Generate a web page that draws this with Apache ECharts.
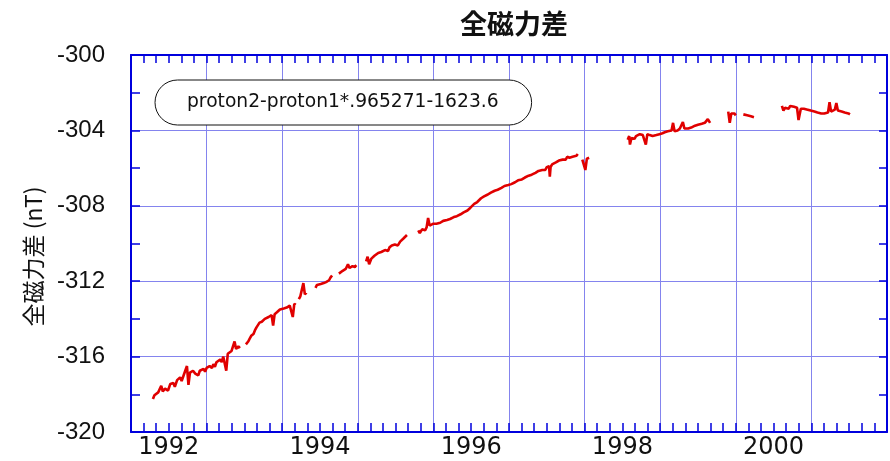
<!DOCTYPE html>
<html>
<head>
<meta charset="utf-8">
<script src="https://cdn.jsdelivr.net/npm/echarts@6/dist/echarts.min.js"></script>
<style>
    html, body { margin: 0; padding: 0; background: #fff; }
    #chart { width: 890px; height: 461px; }
</style>
</head>
<body>
<div id="chart"></div>
<script>
// 全磁力差 (nT), [year, value], one array per continuous stretch
var seg1 = [[1992.29,-318.25],[1992.31,-318.05],[1992.33,-318.15],[1992.36,-317.9],[1992.38,-318.0],[1992.40,-317.55],[1992.42,-317.85],[1992.45,-317.7],[1992.47,-317.6],[1992.49,-317.8],[1992.52,-317.45],[1992.54,-317.55],[1992.56,-317.4],[1992.58,-317.6],[1992.61,-317.25],[1992.63,-317.35],[1992.65,-317.1],[1992.67,-317.3],[1992.70,-316.95],[1992.72,-317.05],[1992.74,-316.5],[1992.76,-317.5],[1992.78,-316.85],[1992.80,-316.95],[1992.82,-316.75],[1992.85,-316.9],[1992.87,-316.8],[1992.89,-317.0],[1992.91,-316.75],[1992.93,-316.85],[1992.96,-316.65],[1992.98,-316.8],[1993.00,-316.6],[1993.02,-316.7],[1993.04,-316.5],[1993.07,-316.6],[1993.09,-316.4],[1993.11,-316.55],[1993.13,-316.3],[1993.15,-316.4],[1993.18,-316.15],[1993.20,-316.3],[1993.22,-316.0],[1993.24,-316.1],[1993.26,-316.75],[1993.28,-315.85],[1993.30,-315.95],[1993.33,-315.7],[1993.35,-315.8],[1993.37,-315.2],[1993.39,-315.6],[1993.42,-315.45],[1993.44,-315.55]];
var seg2 = [[1993.52,-315.35],[1993.55,-315.2],[1993.57,-315.05],[1993.59,-314.9],[1993.62,-314.8],[1993.64,-314.6],[1993.66,-314.45],[1993.68,-314.35],[1993.70,-314.2],[1993.73,-314.15],[1993.75,-314.05],[1993.77,-314.0],[1993.79,-313.95],[1993.82,-313.9],[1993.84,-313.95],[1993.86,-313.8],[1993.88,-314.35],[1993.90,-313.75],[1993.93,-313.65],[1993.95,-313.6],[1993.97,-313.5],[1993.99,-313.55],[1994.02,-313.45],[1994.04,-313.5],[1994.06,-313.4],[1994.08,-313.45],[1994.10,-313.3],[1994.12,-313.35],[1994.14,-313.9],[1994.16,-313.2],[1994.18,-313.25]];
var seg3 = [[1994.22,-312.95],[1994.24,-312.8],[1994.26,-312.9],[1994.28,-312.1],[1994.30,-312.7],[1994.32,-312.6]];
var seg4 = [[1994.44,-312.35],[1994.46,-312.2],[1994.48,-312.3],[1994.51,-312.15],[1994.53,-312.25],[1994.55,-312.1],[1994.58,-312.05],[1994.60,-312.0],[1994.62,-311.95],[1994.64,-311.8],[1994.66,-311.7]];
var seg5 = [[1994.75,-311.6],[1994.77,-311.55],[1994.80,-311.45],[1994.82,-311.4],[1994.84,-311.35],[1994.87,-311.1],[1994.89,-311.3],[1994.91,-311.25],[1994.93,-311.2],[1994.96,-311.25],[1994.98,-311.15]];
var seg6 = [[1995.11,-310.95],[1995.13,-310.7],[1995.15,-311.1],[1995.18,-310.8],[1995.20,-310.75],[1995.22,-310.65],[1995.24,-310.6],[1995.27,-310.5],[1995.29,-310.55],[1995.31,-310.45],[1995.33,-310.4],[1995.36,-310.35],[1995.38,-310.3],[1995.40,-310.4],[1995.42,-310.2],[1995.45,-310.1],[1995.47,-310.15],[1995.49,-310.05],[1995.51,-310.0],[1995.53,-310.1],[1995.56,-309.9],[1995.58,-309.85],[1995.60,-309.75],[1995.62,-309.65],[1995.65,-309.55]];
var seg7 = [[1995.80,-309.3],[1995.82,-309.45],[1995.85,-309.25],[1995.87,-309.2],[1995.89,-309.3],[1995.91,-309.15],[1995.93,-308.65],[1995.95,-309.05],[1995.97,-309.1],[1996.00,-308.95],[1996.02,-309.0],[1996.04,-308.95],[1996.06,-309.0],[1996.09,-308.9],[1996.11,-308.95],[1996.13,-308.8],[1996.15,-308.85],[1996.18,-308.75],[1996.20,-308.8],[1996.22,-308.7],[1996.24,-308.75],[1996.27,-308.6],[1996.29,-308.65],[1996.31,-308.55],[1996.33,-308.5],[1996.36,-308.45],[1996.38,-308.4],[1996.40,-308.35],[1996.42,-308.4],[1996.45,-308.25],[1996.47,-308.2],[1996.49,-308.1],[1996.51,-308.05],[1996.54,-307.9],[1996.56,-307.95],[1996.58,-307.8],[1996.60,-307.7],[1996.63,-307.6],[1996.65,-307.55],[1996.67,-307.5],[1996.69,-307.45],[1996.72,-307.4],[1996.74,-307.35],[1996.76,-307.3],[1996.78,-307.3],[1996.81,-307.2],[1996.83,-307.25],[1996.85,-307.15],[1996.87,-307.1],[1996.90,-307.05],[1996.92,-307.1],[1996.94,-306.95],[1996.96,-307.0],[1996.99,-306.9],[1997.01,-306.95],[1997.03,-306.85],[1997.05,-306.8],[1997.08,-306.75],[1997.10,-306.8],[1997.12,-306.65],[1997.14,-306.7],[1997.17,-306.6],[1997.19,-306.55],[1997.21,-306.5],[1997.23,-306.45],[1997.26,-306.4],[1997.28,-306.45],[1997.30,-306.35],[1997.32,-306.3],[1997.35,-306.25],[1997.37,-306.3],[1997.39,-306.15],[1997.41,-306.2],[1997.44,-306.1],[1997.46,-306.05],[1997.48,-306.1],[1997.50,-305.95],[1997.53,-305.9],[1997.54,-306.45],[1997.55,-305.95],[1997.57,-305.8],[1997.59,-305.85],[1997.62,-305.7],[1997.64,-305.75],[1997.66,-305.6],[1997.68,-305.65],[1997.71,-305.55],[1997.73,-305.5],[1997.75,-305.55],[1997.77,-305.4],[1997.80,-305.45],[1997.82,-305.35],[1997.84,-305.4],[1997.86,-305.3],[1997.89,-305.35],[1997.91,-305.25]];
var seg8 = [[1997.97,-305.55],[1997.99,-305.45],[1998.01,-306.1],[1998.03,-305.5],[1998.05,-305.6],[1998.06,-305.45]];
var seg9 = [[1998.57,-304.5],[1998.59,-304.3],[1998.60,-304.75],[1998.62,-304.4],[1998.64,-304.3],[1998.66,-304.45],[1998.68,-304.3],[1998.70,-304.35],[1998.73,-304.2],[1998.75,-304.3],[1998.77,-304.25],[1998.79,-304.2],[1998.81,-304.75],[1998.83,-304.2],[1998.86,-304.25],[1998.88,-304.15],[1998.90,-304.3],[1998.92,-304.2],[1998.95,-304.25],[1998.97,-304.15],[1998.99,-304.2],[1999.01,-304.1],[1999.03,-304.15],[1999.06,-304.1],[1999.08,-304.2],[1999.10,-304.05],[1999.12,-304.1],[1999.15,-304.0],[1999.17,-303.6],[1999.19,-304.05],[1999.21,-303.95],[1999.23,-304.0],[1999.26,-303.9],[1999.28,-303.95],[1999.30,-303.55],[1999.32,-303.9],[1999.34,-303.85],[1999.37,-303.9],[1999.39,-303.8],[1999.41,-303.85],[1999.43,-303.8],[1999.46,-303.75],[1999.48,-303.8],[1999.50,-303.7],[1999.52,-303.75],[1999.55,-303.65],[1999.57,-303.7],[1999.59,-303.6],[1999.61,-303.65],[1999.63,-303.4],[1999.66,-303.6]];
var seg10 = [[1999.90,-303.0],[1999.92,-303.6],[1999.94,-303.1],[1999.96,-303.15],[1999.98,-303.1],[2000.00,-303.2]];
var seg11 = [[2000.10,-303.15],[2000.12,-303.25],[2000.15,-303.2],[2000.17,-303.3],[2000.20,-303.25],[2000.22,-303.35],[2000.24,-303.3]];
var seg12 = [[2000.61,-302.7],[2000.63,-302.95],[2000.65,-302.8],[2000.67,-302.75],[2000.70,-302.85],[2000.72,-302.7],[2000.74,-302.8],[2000.77,-302.75],[2000.79,-302.85],[2000.81,-302.8],[2000.83,-303.45],[2000.86,-302.85],[2000.88,-302.9],[2000.90,-302.85],[2000.92,-302.95],[2000.95,-302.9],[2000.97,-303.0],[2000.99,-302.95],[2001.01,-303.05],[2001.04,-303.0],[2001.06,-303.1],[2001.08,-303.05],[2001.10,-303.15],[2001.13,-303.1],[2001.15,-303.15],[2001.17,-303.1],[2001.19,-303.15],[2001.22,-303.05],[2001.24,-302.5],[2001.26,-303.0],[2001.28,-302.95],[2001.31,-302.9],[2001.33,-302.55],[2001.35,-302.95],[2001.37,-302.9],[2001.40,-303.0],[2001.42,-302.95],[2001.44,-303.05],[2001.46,-303.0],[2001.49,-303.1],[2001.51,-303.15]];

var segments = [seg1, seg2, seg3, seg4, seg5, seg6, seg7, seg8, seg9, seg10, seg11, seg12];
var seriesName = 'proton2-proton1*.965271-1623.6';

// join the stretches, with a break between each
var lineData = [];
segments.forEach(function (s, i) {
    if (i > 0) lineData.push([s[0][0] - 0.01, '-']);
    lineData = lineData.concat(s);
});

var blue = '#0000dd';
var gridBlue = '#8484ee';

var chart = echarts.init(document.getElementById('chart'));
chart.setOption({
    animation: false,
    title: {
        text: '全磁力差',
        left: 509,
        top: 5,
        textAlign: 'center',
        textStyle: {
            fontFamily: 'Noto Sans CJK JP',
            fontSize: 27,
            fontWeight: 'bold',
            color: '#111'
        }
    },
    legend: {
        data: [seriesName],
        left: 155,
        top: 80,
        icon: 'none',
        itemWidth: 0,
        itemGap: 0,
        padding: [13, 33, 13, 27],
        borderColor: '#111',
        borderWidth: 1,
        borderRadius: 24,
        backgroundColor: '#fff',
        selectedMode: false,
        textStyle: {
            fontFamily: 'DejaVu Sans',
            fontSize: 18.7,
            color: '#111'
        }
    },
    grid: {
        left: 131,
        right: 2,
        top: 55,
        bottom: 29
    },
    xAxis: [{
        type: 'value',
        min: 1992,
        max: 2002,
        interval: 1,
        position: 'bottom',
        axisLine: { lineStyle: { color: blue, width: 2 } },
        axisTick: { inside: true, length: 9, lineStyle: { color: blue, width: 1.5 } },
        minorTick: { show: true, splitNumber: 6, length: 9, lineStyle: { color: blue, width: 1.5 } },
        axisLabel: { show: false },
        splitLine: { lineStyle: { color: gridBlue, width: 1 } }
    }, {
        // year labels sit in the middle of each year
        type: 'value',
        min: 1991.5,
        max: 2001.5,
        interval: 0.5,
        position: 'bottom',
        axisLine: { show: false },
        axisTick: { show: false },
        splitLine: { show: false },
        axisLabel: {
            margin: 4,
            fontFamily: 'DejaVu Sans',
            fontSize: 24,
            color: '#111',
            formatter: function (v) {
                return (v % 2 === 0) ? String(v) : '';
            }
        }
    }, {
        type: 'value',
        min: 1992,
        max: 2002,
        interval: 1,
        position: 'top',
        axisLine: { lineStyle: { color: blue, width: 2 } },
        axisTick: { inside: true, length: 8, lineStyle: { color: blue, width: 1.5 } },
        minorTick: { show: true, splitNumber: 6, length: 8, lineStyle: { color: blue, width: 1.5 } },
        axisLabel: { show: false },
        splitLine: { show: false }
    }],
    yAxis: [{
        type: 'value',
        min: -320,
        max: -300,
        interval: 4,
        position: 'left',
        name: '全磁力差 (nT)',
        nameLocation: 'middle',
        nameGap: 86,
        nameRotate: 90,
        nameTextStyle: {
            fontFamily: 'Noto Sans CJK JP',
            fontSize: 23,
            color: '#111',
            padding: [0, 26, 0, 0]
        },
        axisLine: { show: true, lineStyle: { color: blue, width: 2 } },
        axisTick: { inside: true, length: 9, lineStyle: { color: blue, width: 1.5 } },
        minorTick: { show: true, splitNumber: 2, length: 9, lineStyle: { color: blue, width: 1.5 } },
        axisLabel: {
            margin: 26,
            fontFamily: 'Liberation Sans',
            fontSize: 24,
            color: '#111'
        },
        splitLine: { lineStyle: { color: gridBlue, width: 1 } }
    }, {
        type: 'value',
        min: -320,
        max: -300,
        interval: 4,
        position: 'right',
        axisLine: { show: true, lineStyle: { color: blue, width: 2 } },
        axisTick: { inside: true, length: 8, lineStyle: { color: blue, width: 1.5 } },
        minorTick: { show: true, splitNumber: 2, length: 8, lineStyle: { color: blue, width: 1.5 } },
        axisLabel: { show: false },
        splitLine: { show: false }
    }],
    series: [{
        name: seriesName,
        type: 'line',
        xAxisIndex: 0,
        yAxisIndex: 0,
        data: lineData,
        showSymbol: false,
        symbol: 'none',
        connectNulls: false,
        lineStyle: { color: '#e00000', width: 2.6 },
        itemStyle: { color: '#e00000' }
    }]
});
</script>
</body>
</html>
